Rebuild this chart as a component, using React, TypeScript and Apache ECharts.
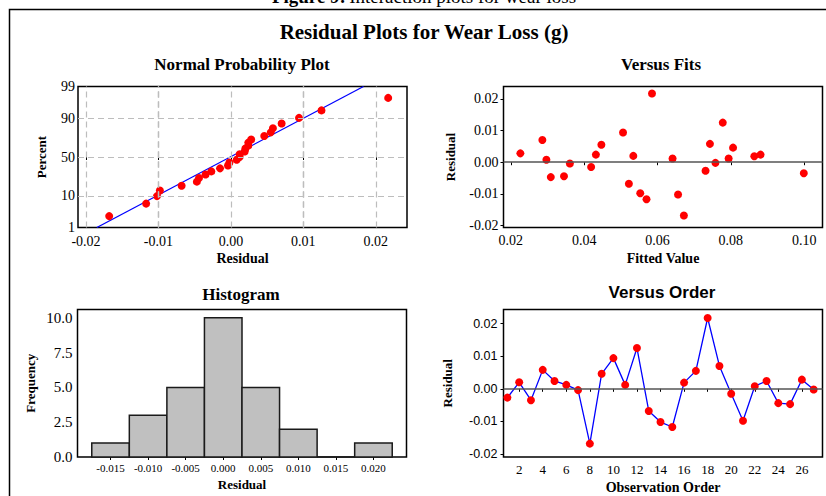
import React, { useEffect, useRef } from "react";
import * as echarts from "echarts";

// Residuals in observation order
const residuals = [
  -0.0027, 0.002, -0.0035, 0.0058, 0.0024, 0.0012, -0.0004, -0.0168, 0.0046,
  0.0094, 0.0012, 0.0125, -0.0068, -0.0102, -0.0117, 0.0019, 0.0055, 0.0217,
  0.007, -0.0015, -0.0098, 0.0008, 0.0024, -0.0044, -0.0047, 0.0028, -0.0002,
];

// Fitted values, same order as the residuals
const fittedValues = [
  0.0731, 0.0534, 0.0999, 0.0743, 0.0432, 0.0794, 0.0361, 0.0672, 0.0806,
  0.0506, 0.0641, 0.0778, 0.0522, 0.0656, 0.057, 0.0864, 0.0447, 0.0585,
  0.0286, 0.0419, 0.0553, 0.0297, 0.0881, 0.0345, 0.0309, 0.0226, 0.0758,
];

// Histogram of residuals
const histBinCenters = [-0.015, -0.01, -0.005, 0, 0.005, 0.01, 0.015, 0.02];
const histFrequency = [1, 3, 5, 10, 5, 2, 0, 1];
const histBinWidth = 0.005;

// Axis ticks
const percentTicks = [1, 10, 50, 90, 99];
const percentGrid = [10, 50, 90];
const npResidualTicks = [-0.02, -0.01, 0, 0.01, 0.02];
const npResidualGrid = [-0.02, -0.015, -0.01, -0.005, 0, 0.005, 0.01, 0.015, 0.02];
const fittedTicks = [0.02, 0.04, 0.06, 0.08, 0.1];
const residualTicks = [-0.02, -0.01, 0, 0.01, 0.02];
const freqTicks = [0, 2.5, 5, 7.5, 10];
const histResidualTicks = [-0.015, -0.01, -0.005, 0, 0.005, 0.01, 0.015, 0.02];
const orderTicks = [2, 4, 6, 8, 10, 12, 14, 16, 18, 20, 22, 24, 26];

// Fitted normal line, residual at 1% and 99%
const fitLineResidual = [-0.0185, 0.0183];
const fitLinePercent = [1, 99];

const SERIF = "'Liberation Serif', 'Times New Roman', serif";
const SANS = "'Liberation Sans', Arial, sans-serif";

// Inverse of the standard normal CDF (Acklam)
function normInv(p: number): number {
  const a = [-39.69683028665376, 220.9460984245205, -275.9285104469687, 138.357751867269, -30.66479806614716, 2.506628277459239];
  const b = [-54.47609879822406, 161.5858368580409, -155.6989798598866, 66.80131188771972, -13.28068155288572];
  const c = [-0.007784894002430293, -0.3223964580411365, -2.400758277161838, -2.549671348283239, 4.374664141464968, 2.938163982698783];
  const d = [0.007784695709041462, 0.3224671290700398, 2.445134137142996, 3.754408661907416];
  const pl = 0.02425;
  if (p < pl) {
    const q = Math.sqrt(-2 * Math.log(p));
    return (((((c[0] * q + c[1]) * q + c[2]) * q + c[3]) * q + c[4]) * q + c[5]) /
      ((((d[0] * q + d[1]) * q + d[2]) * q + d[3]) * q + 1);
  }
  if (p > 1 - pl) {
    const q = Math.sqrt(-2 * Math.log(1 - p));
    return -(((((c[0] * q + c[1]) * q + c[2]) * q + c[3]) * q + c[4]) * q + c[5]) /
      ((((d[0] * q + d[1]) * q + d[2]) * q + d[3]) * q + 1);
  }
  const q = p - 0.5;
  const r = q * q;
  return ((((((a[0] * r + a[1]) * r + a[2]) * r + a[3]) * r + a[4]) * r + a[5]) * q) /
    (((((b[0] * r + b[1]) * r + b[2]) * r + b[3]) * r + b[4]) * r + 1);
}

const pctToZ = (pct: number) => normInv(pct / 100);

function frameAxis(
  gridIndex: number,
  min: number,
  max: number,
  ticks: number[],
  fmt: (v: number) => string,
  font: { family: string; size: number; margin: number },
  extra: any = {}
) {
  return {
    type: "value",
    gridIndex,
    min,
    max,
    axisLine: { show: false },
    splitLine: { show: false },
    axisTick: {
      show: true,
      customValues: ticks,
      length: 3,
      lineStyle: { color: "#000", width: 1 },
    },
    axisLabel: {
      customValues: ticks,
      formatter: (v: number) => fmt(v),
      fontFamily: font.family,
      fontSize: font.size,
      color: "#000",
      margin: font.margin,
    },
    nameLocation: "middle",
    nameTextStyle: {
      fontFamily: SERIF,
      fontWeight: "bold",
      fontSize: 14,
      color: "#000",
    },
    ...extra,
  };
}

function buildOption() {
  const n = residuals.length;
  const sorted = [...residuals].sort((x, y) => x - y);
  const probPoints = sorted.map((r, i) => [r, normInv((i + 1 - 0.3) / (n + 0.4))]);
  const zMin = pctToZ(percentTicks[0]);
  const zMax = pctToZ(percentTicks[percentTicks.length - 1]);
  const zLabel = new Map(percentTicks.map((p) => [pctToZ(p).toFixed(6), String(p)]));

  const gridBase = {
    show: true,
    borderColor: "#000",
    borderWidth: 1.5,
    backgroundColor: "transparent",
    containLabel: false,
  };

  const subTitle = (text: string, left: number, top: number, family = SERIF) => ({
    text,
    left,
    top,
    textAlign: "center",
    padding: 0,
    textStyle: { fontFamily: family, fontWeight: "bold", fontSize: 17, color: "#000" },
  });

  const gridLineStyle = { color: "#bdbdbd", width: 1.2, type: [6, 4] };
  const zeroLine = {
    silent: true,
    symbol: ["none", "none"],
    label: { show: false },
    lineStyle: { color: "#555", width: 1.5, type: "solid" },
    data: [{ yAxis: 0 }],
  };
  const dot = { color: "#ff0000", opacity: 1 };

  return {
    animation: false,
    backgroundColor: "#fff",
    title: [
      {
        text: "Residual Plots for Wear Loss (g)",
        left: 424,
        top: 21,
        textAlign: "center",
        padding: 0,
        textStyle: { fontFamily: SERIF, fontWeight: "bold", fontSize: 21, color: "#000" },
      },
      subTitle("Normal Probability Plot", 242, 56),
      subTitle("Versus Fits", 661, 56),
      subTitle("Histogram", 241, 286),
      subTitle("Versus Order", 662, 284, SANS),
    ],
    grid: [
      { ...gridBase, left: 78, top: 86.5, width: 329, height: 141 },
      { ...gridBase, left: 503.5, top: 86.5, width: 319, height: 141 },
      { ...gridBase, left: 77.5, top: 309.5, width: 329, height: 147.5 },
      { ...gridBase, left: 503.5, top: 309.5, width: 319, height: 147.5 },
    ],
    xAxis: [
      frameAxis(0, -0.0211, 0.0243, npResidualTicks, (v) => v.toFixed(2), { family: SERIF, size: 14, margin: 7 }, {
        name: "Residual",
        nameGap: 24,
      }),
      frameAxis(1, 0.018, 0.105, fittedTicks, (v) => v.toFixed(2), { family: SERIF, size: 14, margin: 6 }, {
        name: "Fitted Value",
        nameGap: 24,
      }),
      frameAxis(2, -0.0194, 0.0244, histResidualTicks, (v) => v.toFixed(3), { family: SERIF, size: 11, margin: 5 }, {
        name: "Residual",
        nameGap: 21,
        nameTextStyle: { fontFamily: SERIF, fontWeight: "bold", fontSize: 13, color: "#000" },
      }),
      frameAxis(3, 0.67, 27.75, orderTicks, (v) => String(Math.round(v)), { family: SERIF, size: 13, margin: 6 }, {
        name: "Observation Order",
        nameGap: 23,
      }),
    ],
    yAxis: [
      frameAxis(0, zMin, zMax, percentTicks.map(pctToZ), (v) => zLabel.get(v.toFixed(6)) ?? "", { family: SERIF, size: 14, margin: 3 }, {
        name: "Percent",
        nameGap: 30,
        nameRotate: 90,
        nameTextStyle: { fontFamily: SERIF, fontWeight: "bold", fontSize: 13, color: "#000" },
      }),
      frameAxis(1, -0.0206, 0.0239, residualTicks, (v) => v.toFixed(2), { family: SERIF, size: 14, margin: 5 }, {
        name: "Residual",
        nameGap: 47,
        nameRotate: 90,
        nameTextStyle: { fontFamily: SERIF, fontWeight: "bold", fontSize: 13, color: "#000" },
      }),
      frameAxis(2, 0, 10.6, freqTicks, (v) => v.toFixed(1), { family: SERIF, size: 15, margin: 5 }, {
        name: "Frequency",
        nameGap: 41,
        nameRotate: 90,
        nameTextStyle: { fontFamily: SERIF, fontWeight: "bold", fontSize: 13, color: "#000" },
      }),
      frameAxis(3, -0.0209, 0.0243, residualTicks, (v) => v.toFixed(2), { family: SANS, size: 12.5, margin: 6 }, {
        name: "Residual",
        nameGap: 50,
        nameRotate: 90,
        nameTextStyle: { fontFamily: SERIF, fontWeight: "bold", fontSize: 13, color: "#000" },
      }),
    ],
    graphic: [
      {
        type: "polyline",
        silent: true,
        shape: { points: [[9.5, 496], [9.5, 9.5], [826, 9.5]] },
        style: { stroke: "#000", lineWidth: 1.5, fill: "none" },
      },
      {
        type: "text",
        x: 424,
        y: 6,
        silent: true,
        style: {
          text: "{b|Figure 9:} {n|Interaction plots for wear loss}",
          align: "center",
          verticalAlign: "bottom",
          rich: {
            b: { fontFamily: SERIF, fontWeight: "bold", fontSize: 19, fill: "#000" },
            n: { fontFamily: SERIF, fontSize: 19, fill: "#000" },
          },
        },
      },
    ],
    series: [
      // Normal probability plot: grid lines and fitted line
      {
        type: "line",
        xAxisIndex: 0,
        yAxisIndex: 0,
        z: 2,
        data: fitLineResidual.map((r, i) => [r, pctToZ(fitLinePercent[i])]),
        symbol: "none",
        lineStyle: { color: "#0000ff", width: 1.2 },
        markLine: {
          silent: true,
          symbol: ["none", "none"],
          label: { show: false },
          lineStyle: gridLineStyle,
          data: [
            ...npResidualGrid.map((x) => ({ xAxis: x })),
            ...percentGrid.map((p) => ({ yAxis: pctToZ(p) })),
          ],
        },
      },
      {
        type: "scatter",
        xAxisIndex: 0,
        yAxisIndex: 0,
        z: 3,
        symbolSize: 8,
        itemStyle: dot,
        data: probPoints,
      },
      // Versus fits
      {
        type: "scatter",
        xAxisIndex: 1,
        yAxisIndex: 1,
        z: 3,
        symbolSize: 8,
        itemStyle: dot,
        data: residuals.map((r, i) => [fittedValues[i], r]),
        markLine: zeroLine,
      },
      // Histogram
      {
        type: "custom",
        xAxisIndex: 2,
        yAxisIndex: 2,
        data: histBinCenters.map((c, i) => [c, histFrequency[i]]),
        renderItem: (params: any, api: any) => {
          const c = api.value(0);
          const f = api.value(1);
          const p0 = api.coord([c - histBinWidth / 2, f]);
          const p1 = api.coord([c + histBinWidth / 2, 0]);
          return {
            type: "rect",
            shape: { x: p0[0], y: p0[1], width: p1[0] - p0[0], height: p1[1] - p0[1] },
            style: { fill: "#c0c0c0", stroke: "#1a1a1a", lineWidth: 1.5 },
          };
        },
      },
      // Versus order
      {
        type: "line",
        xAxisIndex: 3,
        yAxisIndex: 3,
        z: 3,
        data: residuals.map((r, i) => [i + 1, r]),
        symbol: "circle",
        symbolSize: 8,
        showAllSymbol: true,
        itemStyle: dot,
        lineStyle: { color: "#0000ff", width: 1.3 },
        markLine: zeroLine,
      },
    ],
  };
}

export default function App() {
  const ref = useRef<HTMLDivElement>(null);
  useEffect(() => {
    if (!ref.current) return;
    const chart = echarts.init(ref.current, null, { renderer: "svg" });
    chart.setOption(buildOption() as any);
    return () => chart.dispose();
  }, []);
  return (
    <div
      ref={ref}
      style={{ position: "fixed", left: 0, top: 0, width: 826, height: 496, background: "#fff" }}
    />
  );
}
